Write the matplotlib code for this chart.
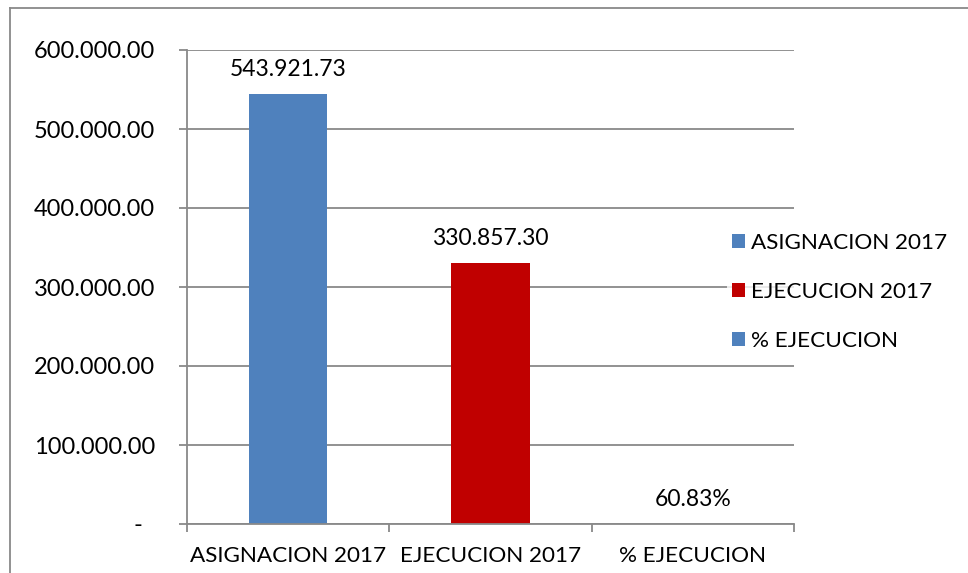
import numpy as np
import matplotlib.pyplot as plt
from matplotlib.lines import Line2D
from matplotlib.patches import Patch

plt.rcParams['font.family'] = ['Lato', 'DejaVu Sans']

categorias = ["ASIGNACION 2017", "EJECUCION 2017", "% EJECUCION"]
valores = [543921.73, 330857.30, 0.6083]
etiquetas = ["543.921.73", "330.857.30", "60.83%"]
colores = ["#4F81BD", "#C00000", "#4F81BD"]

fig = plt.figure(figsize=(9.68, 5.73), dpi=100)
ax = fig.add_axes([187/968, 49/573, 607/968, 474/573])

x = np.arange(len(categorias))
barras = ax.bar(x, valores, width=0.386, color=colores, zorder=2)

for xi, v, t in zip(x, valores, etiquetas):
    ax.annotate(t, (xi, v), xytext=(0, 10), textcoords="offset points",
                ha="center", va="bottom", fontsize=16.5, color="#000000")

ax.set_xlim(-0.5, 2.5)
ax.set_ylim(0, 600000)
ax.set_yticks(np.arange(0, 600001, 100000))

def fmt(v, pos):
    if v == 0:
        return "-  "
    s = f"{int(v):,}".replace(",", ".")
    return s + ".00"

ax.yaxis.set_major_formatter(plt.FuncFormatter(fmt))
ax.set_xticks([-0.5, 0.5, 1.5, 2.5], minor=False)
ax.set_xticklabels([])
ax.set_xticks(x, minor=True)
ax.set_xticklabels(categorias, minor=True)
ax.tick_params(axis="x", which="major", length=6, width=1.3, color="#898989", direction="out")
ax.tick_params(axis="x", which="minor", length=0, pad=16, labelsize=16.2)
ax.tick_params(axis="y", length=6, width=1.3, color="#898989", pad=17, labelsize=17)

ax.grid(axis="y", color="#898989", linewidth=1.3, zorder=0)
for s in ["top", "right"]:
    ax.spines[s].set_visible(False)
ax.spines["left"].set_color("#898989")
ax.spines["bottom"].set_color("#898989")
ax.spines["left"].set_linewidth(1.3)
ax.spines["bottom"].set_linewidth(1.3)

handles = [Patch(facecolor=c, edgecolor="none") for c in colores]
leg = fig.legend(handles, categorias, loc="center left", bbox_to_anchor=(727/968, 1 - 292/573),
                 frameon=True, fontsize=16.2, handlelength=0.6, handleheight=0.6,
                 handletextpad=0.25, labelspacing=1.3, borderpad=0.2, borderaxespad=0)
leg.get_frame().set_edgecolor("none")
leg.get_frame().set_facecolor("white")

fig.add_artist(Line2D([10/968, 1], [1 - 8/573, 1 - 8/573], color="#898989", linewidth=1.3))
fig.add_artist(Line2D([10/968, 10/968], [0, 1 - 8/573], color="#898989", linewidth=1.3))

fig.savefig("out.png", dpi=100)
